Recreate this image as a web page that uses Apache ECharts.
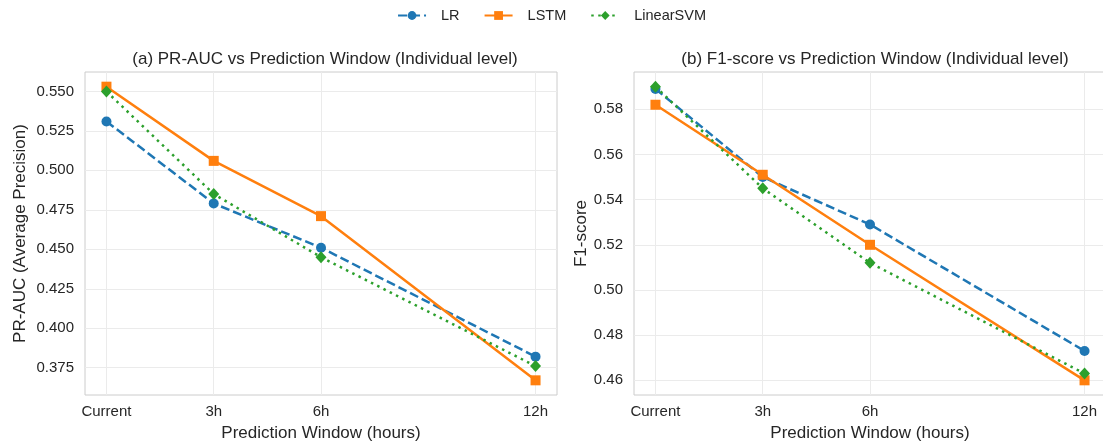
<!DOCTYPE html>
<html>
<head>
<meta charset="utf-8">
<script src="https://cdn.jsdelivr.net/npm/echarts@6/dist/echarts.min.js"></script>
<style>
html,body{margin:0;padding:0;background:#fff;}
#main{width:1103px;height:445px;}
</style>
</head>
<body>
<div id="main"></div>
<script>
// 数据
var windowHours = [0, 3, 6, 12];
var windowLabels = ['Current', '3h', '6h', '12h'];
var seriesNames = ['LR', 'LSTM', 'LinearSVM'];

var prAucLR = [0.531, 0.479, 0.451, 0.382];
var prAucLSTM = [0.553, 0.506, 0.471, 0.367];
var prAucSVM = [0.550, 0.485, 0.445, 0.376];

var f1LR = [0.589, 0.550, 0.529, 0.473];
var f1LSTM = [0.582, 0.551, 0.520, 0.460];
var f1SVM = [0.590, 0.545, 0.512, 0.463];

var prAucTicks = [0.375, 0.400, 0.425, 0.450, 0.475, 0.500, 0.525, 0.550];
var f1Ticks = [0.46, 0.48, 0.50, 0.52, 0.54, 0.56, 0.58];

var colors = ['#1f77b4', '#ff7f0e', '#2ca02c'];
var symbols = ['circle', 'rect', 'diamond'];
var symbolSizes = [10, 10, [11, 12]];
var lineTypes = [[9, 4], 'solid', [2.5, 4.5]];
var textColor = '#262626';
var fontFamily = '"Liberation Sans", Arial, sans-serif';

// matplotlib风格的5%边距
function pad(arrs) {
	var all = [].concat.apply([], arrs);
	var lo = Math.min.apply(null, all), hi = Math.max.apply(null, all);
	var m = (hi - lo) * 0.05;
	return [lo - m, hi + m];
}

function pairs(ys) {
	return windowHours.map(function (x, i) { return [x, ys[i]]; });
}

var prRange = pad([prAucLR, prAucLSTM, prAucSVM]);
var f1Range = pad([f1LR, f1LSTM, f1SVM]);
var xPad = (windowHours[windowHours.length - 1] - windowHours[0]) * 0.05;

function xAxis(idx) {
	return {
		type: 'value', gridIndex: idx,
		min: windowHours[0] - xPad, max: windowHours[windowHours.length - 1] + xPad,
		name: 'Prediction Window (hours)', nameLocation: 'middle', nameGap: 30,
		nameTextStyle: {color: textColor, fontSize: 17, fontFamily: fontFamily},
		axisLine: {show: false},
		axisTick: {show: false, customValues: windowHours},
		axisLabel: {
			customValues: windowHours, color: textColor, fontSize: 15, fontFamily: fontFamily, margin: 9,
			formatter: function (v) { return windowLabels[windowHours.indexOf(v)]; }
		},
		splitLine: {show: true, lineStyle: {color: '#ebebeb', width: 1}}
	};
}

function yAxis(idx, range, ticks, digits, name, gap) {
	return {
		type: 'value', gridIndex: idx,
		min: range[0], max: range[1],
		name: name, nameLocation: 'middle', nameGap: gap,
		nameTextStyle: {color: textColor, fontSize: 17, fontFamily: fontFamily},
		axisLine: {show: false},
		axisTick: {show: false, customValues: ticks},
		axisLabel: {
			customValues: ticks, color: textColor, fontSize: 15, fontFamily: fontFamily, margin: 11,
			formatter: function (v) { return v.toFixed(digits); }
		},
		splitLine: {show: true, lineStyle: {color: '#ebebeb', width: 1}}
	};
}

function makeSeries(idx, datas) {
	return datas.map(function (d, i) {
		return {
			name: seriesNames[i], type: 'line',
			xAxisIndex: idx, yAxisIndex: idx,
			data: pairs(d),
			symbol: symbols[i], symbolSize: symbolSizes[i],
			showAllSymbol: true,
			itemStyle: {color: colors[i]},
			lineStyle: {color: colors[i], width: 2.5, type: lineTypes[i]},
			z: 2 + i,
			animation: false
		};
	});
}

var myChart = echarts.init(document.getElementById('main'));
var option = {
	backgroundColor: '#fff',
	textStyle: {fontFamily: fontFamily},
	title: [
		{text: '(a) PR-AUC vs Prediction Window (Individual level)', left: 320, top: 46, textAlign: 'center',
			textStyle: {color: textColor, fontSize: 17, fontWeight: 'normal', fontFamily: fontFamily}},
		{text: '(b) F1-score vs Prediction Window (Individual level)', left: 870, top: 46, textAlign: 'center',
			textStyle: {color: textColor, fontSize: 17, fontWeight: 'normal', fontFamily: fontFamily}}
	],
	legend: {
		data: seriesNames, top: 3, left: 'center',
		itemWidth: 28, itemHeight: 11, itemGap: 24,
		textStyle: {color: textColor, fontSize: 14.5, fontFamily: fontFamily, padding: [0, 0, 0, 10]}
	},
	grid: [
		{left: 85, top: 72, width: 472, height: 323, show: true, borderColor: '#cccccc', borderWidth: 1,
			backgroundColor: '#fff', containLabel: false, outerBoundsMode: 'none'},
		{left: 634, top: 72, width: 472, height: 323, show: true, borderColor: '#cccccc', borderWidth: 1,
			backgroundColor: '#fff', containLabel: false, outerBoundsMode: 'none'}
	],
	xAxis: [xAxis(0), xAxis(1)],
	yAxis: [
		yAxis(0, prRange, prAucTicks, 3, 'PR-AUC (Average Precision)', 56),
		yAxis(1, f1Range, f1Ticks, 2, 'F1-score', 30)
	],
	series: makeSeries(0, [prAucLR, prAucLSTM, prAucSVM]).concat(makeSeries(1, [f1LR, f1LSTM, f1SVM]))
};
myChart.setOption(option);
</script>
</body>
</html>
